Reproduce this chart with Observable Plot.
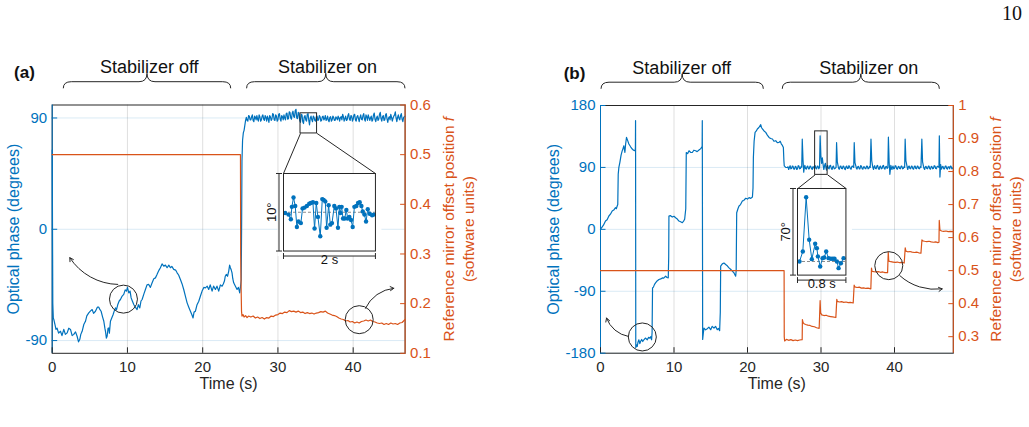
<!DOCTYPE html>
<html>
<head>
<meta charset="utf-8">
<script src="https://cdn.jsdelivr.net/npm/d3@7"></script>
<script src="https://cdn.jsdelivr.net/npm/@observablehq/plot@0.6"></script>
<style>
  body { margin: 0; background: #fff; }
  #fig { position: relative; width: 1029px; height: 427px; overflow: hidden; background: #fff; }
  #page { position: absolute; left: 1002px; top: 3px; font: 20px "Liberation Serif", "DejaVu Serif", serif; line-height: 1; color: #111; }
</style>
</head>
<body>
<div id="fig"><div id="page">10</div></div>
<script>
// ---------- shared axis values ----------
const timeTicks = [0, 10, 20, 30, 40];
const timeGrid = [10, 20, 30, 40];

// ---------- panel (a): phase (degrees) vs time (s) ----------
const phaseTicksA = [-90, 0, 90];
const offsetTicksA = [0.1, 0.2, 0.3, 0.4, 0.5, 0.6];
const phaseA = [
  [0, 64], [0.08, -60], [0.15, -72], [0.22, -73], [0.4, -78], [0.5, -81], [0.65, -80], [0.85, -84], [1.1, -82.5],
  [1.3, -86], [1.54, -81], [1.75, -85], [1.99, -83.8], [2.2, -80], [2.43, -81], [2.65, -86], [2.87, -85], [3.1, -83],
  [3.31, -86.5], [3.5, -91], [3.67, -89], [3.8, -85], [3.98, -82.5], [4.2, -77], [4.42, -74.4], [4.6, -70], [4.86, -67.6],
  [5.1, -66], [5.31, -64.9], [5.5, -68], [5.75, -66.3], [6.0, -63], [6.19, -63], [6.35, -65], [6.5, -66.3], [6.7, -71],
  [6.86, -74.4], [7.0, -80], [7.08, -82.5], [7.2, -88], [7.3, -86.5], [7.42, -80], [7.52, -79.8], [7.6, -84], [7.74, -74.4],
  [7.9, -72], [8.1, -68.9], [8.25, -66], [8.41, -63.6], [8.55, -65], [8.72, -60.8], [8.9, -58], [9.07, -56.8], [9.3, -54],
  [9.51, -52.7], [9.7, -49], [9.87, -50], [10.0, -47], [10.18, -51.4], [10.35, -50], [10.49, -55.5], [10.65, -58],
  [10.84, -60.8], [11.05, -63], [11.28, -64.9], [11.45, -61], [11.64, -63.6], [11.8, -58], [11.95, -56.8], [12.2, -52],
  [12.39, -48.7], [12.6, -45], [12.83, -44.6], [13.05, -47], [13.28, -43.3], [13.5, -40], [13.72, -39.3], [13.9, -37],
  [14.03, -35.2], [14.2, -33], [14.38, -31.1], [14.6, -28], [14.83, -29.8], [15.05, -29], [15.27, -31.1], [15.5, -29],
  [15.71, -31.1], [15.9, -30], [16.15, -32.4], [16.4, -33], [16.6, -35.2], [16.8, -37], [17.04, -40.6], [17.25, -44],
  [17.48, -48.7], [17.7, -54], [17.93, -59.5], [18.15, -63], [18.37, -66.3], [18.55, -69], [18.72, -71.7], [18.85, -67],
  [19.03, -66.3], [19.25, -61], [19.48, -58.2], [19.7, -54], [19.92, -50], [20.15, -47], [20.36, -47.4], [20.6, -46],
  [20.8, -48.7], [21.0, -45], [21.25, -50], [21.45, -46], [21.69, -48.7], [21.9, -46], [22.13, -50], [22.35, -45],
  [22.58, -46], [22.75, -44], [22.89, -41.9], [23.0, -38], [23.15, -36.5], [23.3, -38], [23.46, -33.8], [23.58, -29],
  [23.68, -31.1], [23.8, -33], [23.9, -35.2], [24.0, -40], [24.12, -43.3], [24.35, -46], [24.57, -48.7], [24.75, -47],
  [24.92, -51.4], [25.05, -45], [25.12, -41], [25.18, 10], [25.22, 55], [25.3, 72], [25.4, 78], [25.5, 80], [25.6, 84],
  [25.7, 88],
  [25.8, 90.5], [25.9, 88], [26.0, 87.5], [26.1, 92], [26.2, 91.5], [26.3, 88.5], [26.4, 88.5], [26.5, 91], [26.6, 92.5],
  [26.7, 88], [26.8, 87], [26.9, 91.5], [27.0, 90.5], [27.1, 88.5], [27.2, 92], [27.3, 89], [27.4, 87.5], [27.5, 92.5],
  [27.6, 91], [27.7, 87.5], [27.8, 88.5], [27.9, 91.5], [28.0, 92.5], [28.1, 89], [28.2, 88], [28.3, 92], [28.4, 90.5],
  [28.5, 87.5], [28.6, 91.5], [28.7, 89.5], [28.8, 86.5], [28.9, 92], [29.0, 91], [29.1, 88], [29.2, 89], [29.3, 93.5],
  [29.4, 93], [29.5, 88.5], [29.6, 88], [29.7, 92.5], [29.8, 91.5], [29.9, 87.5], [30.0, 88.5], [30.1, 93], [30.2, 93.5],
  [30.3, 89], [30.4, 87.5], [30.5, 92], [30.6, 91], [30.7, 88.5], [30.8, 92.5], [30.9, 90], [31.0, 88.5], [31.1, 93.5],
  [31.2, 94], [31.3, 89], [31.4, 89.5], [31.5, 95], [31.6, 94.5], [31.7, 90], [31.8, 89], [31.9, 94], [32.0, 95.5],
  [32.1, 91], [32.2, 90.5], [32.3, 96], [32.4, 97], [32.5, 90], [32.6, 89.5], [32.7, 94.5], [32.8, 93.5], [32.9, 88],
  [33.0, 86.5], [33.1, 93], [33.2, 92.5], [33.3, 87], [33.4, 85.5], [33.5, 91], [33.6, 92], [33.7, 88.5], [33.8, 87.5],
  [33.9, 93], [34.0, 93.5], [34.1, 88], [34.2, 84.5], [34.3, 90], [34.4, 91.5], [34.5, 88.5], [34.6, 87], [34.7, 91.5],
  [34.8, 90.5], [34.9, 88], [35.0, 87.5], [35.1, 91], [35.2, 91.5], [35.3, 88], [35.4, 88.5], [35.5, 92], [35.6, 91],
  [35.7, 87.5], [35.8, 88], [35.9, 91], [36.0, 91.5], [36.1, 88.5], [36.2, 89.5], [36.3, 92], [36.4, 88], [36.5, 89],
  [36.6, 91.5], [36.7, 88], [36.8, 87], [36.9, 90.5], [37.0, 91], [37.1, 87.5], [37.2, 88.5], [37.3, 91.5], [37.4, 90.5],
  [37.5, 88], [37.6, 88], [37.7, 91], [37.8, 90], [37.9, 88.5], [38.0, 91.5], [38.1, 90], [38.2, 87.5], [38.3, 90.5],
  [38.4, 91], [38.5, 88.5], [38.6, 93], [38.7, 91], [38.8, 87.5], [38.9, 89.5], [39.0, 91.5], [39.1, 88], [39.2, 88.5],
  [39.3, 92], [39.4, 93.5], [39.5, 89], [39.6, 88], [39.7, 92], [39.8, 91.5], [39.9, 87.5], [40.0, 89], [40.1, 92.5],
  [40.2, 93], [40.3, 88.5], [40.4, 87.5], [40.5, 91], [40.6, 92], [40.7, 89.5], [40.8, 87], [40.9, 90.5], [41.0, 92.5],
  [41.1, 89], [41.2, 88.5], [41.3, 92], [41.4, 93.5], [41.5, 89], [41.6, 87.5], [41.7, 92.5], [41.8, 91], [41.9, 88],
  [42.0, 92.5], [42.1, 90.5], [42.2, 88], [42.3, 90], [42.4, 91.5], [42.5, 87.5], [42.6, 88.5], [42.7, 92.5], [42.8, 94],
  [42.9, 89], [43.0, 87], [43.1, 90], [43.2, 91.5], [43.3, 88], [43.4, 89], [43.5, 93], [43.6, 94.5], [43.7, 89.5],
  [43.8, 87.5], [43.9, 91], [44.0, 92], [44.1, 88], [44.2, 88.5], [44.3, 92.5], [44.4, 93.5], [44.5, 89], [44.6, 86.5],
  [44.7, 90], [44.8, 91], [44.9, 88.5], [45.0, 93], [45.1, 90.5], [45.2, 87.5], [45.3, 90], [45.4, 91.5], [45.5, 92.5],
  [45.6, 95], [45.7, 90], [45.8, 87], [45.9, 90.5], [46.0, 92.5], [46.1, 89.5], [46.2, 88.5], [46.3, 92], [46.4, 93.5],
  [46.5, 89], [46.6, 87], [46.7, 90.5], [46.8, 91], [46.9, 91.5]
];
// reference mirror offset f (software units)
const offsetA = [
  [0, 0.5], [25.02, 0.5], [25.05, 0.30], [25.08, 0.26], [25.12, 0.22], [25.16, 0.185], [25.22, 0.175], [25.35, 0.178],
  [25.5, 0.173], [25.7, 0.176], [25.9, 0.172], [26.1, 0.175], [26.4, 0.173], [26.7, 0.175], [27.0, 0.171], [27.3, 0.173],
  [27.6, 0.170], [27.9, 0.172], [28.2, 0.169], [28.5, 0.172], [28.8, 0.171], [29.1, 0.175], [29.4, 0.174], [29.7, 0.177],
  [30.0, 0.178], [30.3, 0.181], [30.6, 0.180], [30.9, 0.183], [31.2, 0.182], [31.5, 0.186], [31.8, 0.184], [32.1, 0.185],
  [32.4, 0.183], [32.7, 0.185], [33.0, 0.182], [33.3, 0.183], [33.6, 0.180], [33.9, 0.182], [34.2, 0.180], [34.5, 0.181],
  [34.8, 0.179], [35.1, 0.181], [35.4, 0.182], [35.7, 0.184], [36.0, 0.183], [36.3, 0.185], [36.6, 0.181], [36.9, 0.179],
  [37.2, 0.177], [37.5, 0.176], [37.8, 0.174], [38.1, 0.171], [38.4, 0.169], [38.7, 0.168], [39.0, 0.165], [39.3, 0.166],
  [39.6, 0.163], [39.9, 0.164], [40.2, 0.161], [40.5, 0.163], [40.8, 0.161], [41.1, 0.164], [41.4, 0.165], [41.7, 0.167],
  [42.0, 0.165], [42.3, 0.167], [42.6, 0.164], [42.9, 0.163], [43.2, 0.161], [43.5, 0.160], [43.8, 0.161], [44.1, 0.158],
  [44.4, 0.160], [44.7, 0.158], [45.0, 0.161], [45.3, 0.159], [45.6, 0.160], [45.9, 0.158], [46.2, 0.161], [46.5, 0.162],
  [46.9, 0.168]
];
// 2 s zoom of the locked phase, samples [s, degrees]
const zoomA = [
  [0.036, 89.9], [0.109, 89.7], [0.16, 89.1], [0.182, 90.7], [0.218, 91.9], [0.255, 90.8], [0.291, 88.1], [0.327, 88.8],
  [0.378, 88.6], [0.415, 90.5], [0.458, 90.6], [0.509, 90.8], [0.56, 91.1], [0.596, 91.2], [0.64, 91.3], [0.676, 87.9],
  [0.713, 91.2], [0.749, 89.4], [0.8, 86.9], [0.844, 91.7], [0.873, 91.6], [0.909, 91.4], [0.938, 88.0], [0.982, 90.9],
  [1.018, 88.4], [1.055, 88.6], [1.105, 90.8], [1.142, 90.5], [1.185, 88.0], [1.215, 90.7], [1.236, 89.9], [1.265, 90.7],
  [1.295, 89.2], [1.331, 89.2], [1.367, 90.3], [1.396, 89.2], [1.433, 89.4], [1.469, 89.0], [1.505, 88.1], [1.542, 90.7],
  [1.585, 90.8], [1.622, 91.2], [1.658, 91.3], [1.695, 90.8], [1.724, 90.1], [1.76, 89.7], [1.796, 88.8], [1.833, 90.4],
  [1.876, 89.8], [1.927, 89.6], [1.964, 89.7]
];

// ---------- panel (b) ----------
const phaseTicksB = [-180, -90, 0, 90, 180];
const offsetTicksB = [0.3, 0.4, 0.5, 0.6, 0.7, 0.8, 0.9, 1];
const phaseB = [
  [0, 0], [0.14, 2.3], [0.4, 6], [0.68, 12.1], [0.9, 14], [1.14, 19.4], [1.35, 22], [1.59, 26.7], [1.8, 28], [2.04, 31.5],
  [2.15, 30], [2.27, 34], [2.35, 36], [2.41, 80], [2.5, 90], [2.63, 97], [2.8, 108], [2.95, 114], [3.05, 117], [3.18, 121.5],
  [3.25, 116], [3.32, 111.7], [3.42, 124], [3.54, 133.6], [3.7, 129], [3.86, 124], [4.1, 120], [4.32, 116.7], [4.5, 115],
  [4.68, 114.2], [4.75, 118], [4.77, 158], [4.8, -172], [4.9, -168], [5.0, -170.2], [5.1, -164], [5.22, -160.5], [5.35, -166],
  [5.45, -162.9], [5.6, -160], [5.75, -163], [5.9, -160.5], [6.1, -158], [6.36, -160.5], [6.55, -157], [6.72, -158.1],
  [6.85, -156], [6.95, -160.5], [7.02, -150], [7.08, -85.2], [7.2, -84], [7.35, -80], [7.49, -77.9], [7.7, -75], [7.95, -72.9],
  [8.2, -72], [8.4, -70.6], [8.6, -71], [8.86, -68.1], [9.05, -70], [9.22, -70.6], [9.28, -40], [9.31, 19.4], [9.5, 20],
  [9.76, 17.9], [10.0, 19], [10.22, 16.9], [10.45, 15], [10.67, 12.1], [10.9, 11], [11.13, 9.6], [11.3, 12], [11.45, 14.6],
  [11.6, 30], [11.67, 111.7], [11.85, 110], [12.04, 114.2], [12.25, 112], [12.49, 111.7], [12.7, 115], [12.94, 114.2],
  [13.15, 113], [13.4, 115.2], [13.6, 117], [13.76, 119], [13.83, 121], [13.85, 158], [13.9, -160], [14.0, -150],
  [14.08, -143.5], [14.3, -146], [14.53, -144.4], [14.75, -142], [14.99, -145.9], [15.2, -141], [15.44, -143.5],
  [15.65, -141], [15.89, -145.9], [16.05, -144], [16.21, -147.3], [16.3, -120], [16.35, -53.5], [16.57, -50.2], [16.8, -49],
  [17.03, -51.1], [17.25, -53], [17.48, -56], [17.7, -58], [17.94, -60.8], [18.15, -63], [18.39, -68.1], [18.46, -60],
  [18.53, 24.2], [18.7, 30], [18.85, 34], [19.05, 36], [19.3, 41.3], [19.5, 42], [19.76, 45.2], [20.0, 44], [20.21, 46.1],
  [20.45, 45], [20.67, 46.9], [20.75, 60], [20.8, 104.4], [20.9, 128], [21.03, 140.9], [21.2, 143], [21.34, 145.9],
  [21.55, 148], [21.8, 152.1], [21.9, 148], [22.03, 145.9], [22.25, 143], [22.48, 140.9], [22.7, 137], [22.93, 133.6],
  [23.15, 132], [23.39, 131.3], [23.6, 128], [23.84, 128.8], [24.05, 126], [24.29, 126.3], [24.45, 128], [24.61, 124],
  [24.75, 122], [24.88, 119], [24.95, 100], [25.0, 92.3], [25.2, 90], [25.43, 89.9],
  [25.5, 91], [25.6, 87], [25.7, 90], [25.8, 92.5], [25.9, 88], [26.0, 88.5], [26.1, 92], [26.2, 91.5], [26.3, 87.5],
  [26.4, 87.5], [26.5, 91.5], [26.6, 91], [26.7, 87], [26.8, 88], [26.9, 92.5], [27.0, 92], [27.1, 88], [27.2, 88.5],
  [27.3, 91.5], [27.38, 90.5], [27.45, 131], [27.55, 101], [27.65, 83], [27.72, 89], [27.8, 93], [27.9, 88.5], [28.0, 87.5],
  [28.1, 91], [28.2, 92], [28.3, 88], [28.4, 88], [28.5, 92], [28.6, 91.5], [28.7, 88.5], [28.8, 87], [28.9, 91], [29.0, 91],
  [29.1, 88], [29.2, 92.5], [29.3, 89], [29.4, 88], [29.5, 92], [29.6, 91.5], [29.7, 88], [29.8, 90], [29.88, 136],
  [29.98, 106], [30.08, 96], [30.18, 104], [30.3, 93], [30.38, 87], [30.45, 90], [30.52, 94], [30.6, 96], [30.68, 89],
  [30.75, 86], [30.82, 91], [30.9, 93], [31.0, 89], [31.1, 88], [31.2, 92.5], [31.3, 93], [31.4, 88.5], [31.5, 87],
  [31.6, 91], [31.7, 92], [31.8, 88], [31.9, 88.5], [32.05, 90], [32.12, 126], [32.22, 98], [32.35, 91], [32.42, 88],
  [32.5, 87.5], [32.6, 91.5], [32.7, 92], [32.8, 88.5], [32.9, 88], [33.0, 92], [33.1, 91.5], [33.2, 88], [33.3, 87],
  [33.4, 91], [33.5, 92], [33.6, 88.5], [33.7, 88.5], [33.8, 92.5], [33.9, 91], [34.0, 88], [34.1, 87.5], [34.2, 91.5],
  [34.3, 92], [34.45, 90], [34.52, 126], [34.62, 97], [34.75, 92], [34.82, 88.5], [34.9, 87.5], [35.0, 91], [35.1, 91.5],
  [35.2, 88], [35.3, 88], [35.4, 92.5], [35.5, 92], [35.6, 88], [35.7, 87.5], [35.8, 91], [35.9, 91], [36.0, 88.5],
  [36.1, 88], [36.2, 92], [36.3, 92], [36.4, 88], [36.5, 88.5], [36.6, 91.5], [36.7, 90], [36.8, 131], [36.9, 100],
  [37.0, 93], [37.08, 89], [37.15, 87], [37.22, 91], [37.3, 92.5], [37.4, 88.5], [37.5, 88], [37.6, 92], [37.7, 93],
  [37.8, 88.5], [37.9, 87], [38.0, 91], [38.1, 92], [38.2, 88], [38.3, 88.5], [38.4, 92], [38.5, 93], [38.6, 88.5],
  [38.7, 87.5], [38.8, 91], [38.9, 91.5], [39.0, 88.5], [39.1, 90], [39.17, 134], [39.27, 98], [39.37, 80], [39.5, 93],
  [39.58, 90], [39.65, 87], [39.72, 90], [39.8, 92], [39.9, 88], [40.0, 88.5], [40.1, 92.5], [40.2, 92], [40.3, 88],
  [40.4, 87.5], [40.5, 91], [40.6, 91.5], [40.7, 88.5], [40.8, 88], [40.9, 92], [41.0, 92], [41.1, 88], [41.2, 88.5],
  [41.3, 91], [41.38, 90], [41.45, 131], [41.55, 100], [41.68, 93], [41.75, 89], [41.8, 87], [41.9, 91], [42.0, 92],
  [42.1, 88.5], [42.2, 88], [42.3, 92], [42.4, 91.5], [42.5, 88], [42.6, 87.5], [42.7, 91.5], [42.8, 92], [42.9, 88.5],
  [43.0, 88], [43.1, 92], [43.2, 91.5], [43.3, 88.5], [43.4, 88], [43.5, 91], [43.6, 90], [43.72, 131], [43.82, 98],
  [43.95, 91], [44.02, 88.5], [44.1, 87], [44.2, 91], [44.3, 91.5], [44.4, 88.5], [44.5, 88], [44.6, 92], [44.7, 92],
  [44.8, 88], [44.9, 87.5], [45.0, 91.5], [45.1, 91], [45.2, 88], [45.3, 88.5], [45.4, 92.5], [45.5, 92], [45.6, 88.5],
  [45.7, 88], [45.8, 91.5], [45.9, 91.5], [46.05, 90], [46.1, 136], [46.18, 76], [46.28, 94], [46.35, 89], [46.4, 87.5],
  [46.5, 91], [46.6, 91.5], [46.7, 88], [46.8, 88], [46.9, 92], [47.0, 92], [47.1, 88.5], [47.2, 87.5], [47.3, 91],
  [47.4, 91], [47.5, 88], [47.6, 92], [47.7, 91.5], [47.8, 88], [47.9, 88.5], [48.0, 90]
];
const offsetB = [
  [0, 0.5], [24.98, 0.5], [25.0, 0.30], [25.05, 0.287], [25.3, 0.292], [25.6, 0.289], [25.9, 0.291], [26.2, 0.288],
  [26.5, 0.290], [26.8, 0.288], [27.1, 0.290], [27.44, 0.291], [27.47, 0.352], [27.55, 0.343], [27.7, 0.339], [27.9, 0.337],
  [28.2, 0.335], [28.5, 0.334], [28.8, 0.331], [29.1, 0.330], [29.4, 0.327], [29.75, 0.325], [29.88, 0.409], [29.95, 0.372],
  [30.1, 0.366], [30.4, 0.364], [30.7, 0.365], [31.0, 0.362], [31.3, 0.361], [31.6, 0.360], [32.02, 0.358], [32.15, 0.413],
  [32.22, 0.407], [32.5, 0.405], [32.8, 0.406], [33.1, 0.404], [33.4, 0.405], [33.7, 0.403], [34.0, 0.404], [34.38, 0.402],
  [34.51, 0.456], [34.6, 0.451], [34.9, 0.449], [35.2, 0.450], [35.5, 0.447], [35.8, 0.448], [36.1, 0.446], [36.4, 0.447],
  [36.78, 0.445], [36.87, 0.508], [36.95, 0.498], [37.2, 0.497], [37.5, 0.496], [37.8, 0.497], [38.1, 0.495], [38.4, 0.496],
  [38.7, 0.494], [39.06, 0.494], [39.15, 0.556], [39.22, 0.529], [39.5, 0.527], [39.8, 0.526], [40.1, 0.525], [40.4, 0.526],
  [40.7, 0.524], [41.0, 0.525], [41.32, 0.523], [41.46, 0.569], [41.55, 0.559], [41.8, 0.557], [42.1, 0.558], [42.4, 0.556],
  [42.7, 0.555], [43.0, 0.556], [43.3, 0.554], [43.6, 0.553], [43.73, 0.593], [43.85, 0.590], [44.1, 0.589], [44.4, 0.588],
  [44.7, 0.589], [45.0, 0.587], [45.3, 0.586], [45.6, 0.587], [45.9, 0.585], [46.05, 0.586], [46.09, 0.652], [46.18, 0.623],
  [46.4, 0.620], [46.7, 0.619], [47.0, 0.620], [47.3, 0.618], [47.6, 0.619], [48.0, 0.618]
];
// 0.8 s zoom around one phase kick, samples [s, degrees]
const zoomB = [
  [0.033, 90], [0.088, 98.1], [0.143, 141.9], [0.193, 107.6], [0.237, 91.9], [0.292, 104.3], [0.32, 100.8], [0.337, 94.1],
  [0.375, 85.9], [0.414, 92.7], [0.441, 93.2], [0.474, 98.1], [0.513, 92.7], [0.552, 92.2], [0.585, 92.2], [0.612, 92.2],
  [0.651, 90], [0.679, 84.6], [0.717, 88.6], [0.761, 92.7]
];

const stageLabels = ["Stabilizer off", "Stabilizer on"];

// ---------- styling ----------
const BLUE = "#0072BD", ORANGE = "#D95319", INK = "#262626";
const FONT = '"Liberation Sans", Arial, Helvetica, sans-serif';
const H = 427;
const NS = "http://www.w3.org/2000/svg";
const fig = document.getElementById("fig");
const RIGHT_TITLE = "Reference mirror offset position f\n(software units)";

const panels = [
  {
    letter: "(a)", left: 0, width: 514, mL: 51.7, mR: 109.4, mT: 104.5, mB: 74.2,
    xDomain: [0, 46.9], yDomain: [-100.3, 100.5], yTicks: phaseTicksA,
    rDomain: [0.1, 0.6], rTicks: offsetTicksA, rFormat: d => d.toFixed(1),
    phase: phaseA, offset: offsetA, zoom: zoomA,
    zoomX: [0, 2], zoomY: [85, 95], zoomRef: 90, zoomYLabel: "10°", zoomXLabel: "2 s",
    inset: {t0: 30.74, t1: 42.96, yTop: 45.1, yBottom: -17.6},
    source: {t0: 33.0, t1: 35.2, yTop: 93.8, yBottom: 77.5},
    stages: [12.9, 36.6], braces: [[1.54, 23.79], [25.9, 46.95]],
    letterDx: -27.7, yTitleDx: -38.7, rTitleDx: 52.7,
    circle: {t: 9.47, v: -56.5}, arrow: {x1: 8.71, y1: -44.6, x2: 2.34, y2: -23.0}, bend: 28,
    rCircle: {t: 40.8, v: 0.1677}, rArrow: {x1: 41.63, y1: 0.1906, x2: 45.4, y2: 0.2309}, rBend: 30
  },
  {
    letter: "(b)", left: 514, width: 515, mL: 86, mR: 76.2, mT: 105, mB: 74.3,
    xDomain: [0, 48], yDomain: [-180, 180], yTicks: phaseTicksB,
    rDomain: [0.25, 1], rTicks: offsetTicksB, rFormat: d => d === 1 ? "1" : d.toFixed(1),
    phase: phaseB, offset: offsetB, zoom: zoomB,
    zoomX: [0, 0.8], zoomY: [79, 149], zoomRef: 90, zoomYLabel: "70°", zoomXLabel: "0.8 s",
    inset: {t0: 26.84, t1: 33.43, yTop: 59.2, yBottom: -66.7},
    source: {t0: 29.2, t1: 30.9, yTop: 142.4, yBottom: 79.2},
    stages: [11.05, 36.5], braces: [[0.14, 22.22], [24.8, 46.17]],
    letterDx: -26, yTitleDx: -46.7, rTitleDx: 51.5,
    circle: {t: 5.69, v: -156.4}, arrow: {x1: 3.77, y1: -155.6, x2: 0.82, y2: -129.0}, bend: 30,
    rCircle: {t: 39.22, v: 0.5151}, rArrow: {x1: 40.72, y1: 0.4849, x2: 46.49, y2: 0.4447}, rBend: -25
  }
];

// curly braces drawn above the frame, spanning [t0, t1] on the time scale
function braceMark(spans) {
  return (index, scales, values, dimensions) => {
    const g = document.createElementNS(NS, "g");
    const top = dimensions.marginTop;
    const yEnd = top - 16.2, yFlat = top - 22.8, yTip = top - 31.2, r = 8;
    for (const [a, b] of spans) {
      const x1 = scales.x(a), x2 = scales.x(b), xm = (x1 + x2) / 2;
      const p = d3.path();
      p.moveTo(x1, yEnd);
      p.quadraticCurveTo(x1, yFlat, x1 + r, yFlat);
      p.lineTo(xm - r, yFlat);
      p.quadraticCurveTo(xm, yFlat, xm, yTip);
      p.quadraticCurveTo(xm, yFlat, xm + r, yFlat);
      p.lineTo(x2 - r, yFlat);
      p.quadraticCurveTo(x2, yFlat, x2, yEnd);
      const path = document.createElementNS(NS, "path");
      path.setAttribute("d", p.toString());
      path.setAttribute("fill", "none");
      path.setAttribute("stroke", INK);
      path.setAttribute("stroke-width", 1);
      g.append(path);
    }
    return g;
  };
}

function place(el, left, top) {
  el.style.position = "absolute";
  el.style.left = left + "px";
  el.style.top = top + "px";
  fig.append(el);
}

const tx = d => d[0], ty = d => d[1];

for (const P of panels) {
  const style = {background: "transparent", overflow: "visible", fontFamily: FONT, fontSize: "15px", color: INK, maxWidth: "none"};
  const base = {
    width: P.width, height: H,
    marginLeft: P.mL, marginRight: P.mR, marginTop: P.mT, marginBottom: P.mB,
    style
  };
  const connectors = [
    {x1: P.source.t0, y1: P.source.yBottom, x2: P.inset.t0, y2: P.inset.yTop},
    {x1: P.source.t1, y1: P.source.yBottom, x2: P.inset.t1, y2: P.inset.yTop}
  ];

  // left axis: optical phase
  const phasePlot = Plot.plot({
    ...base,
    x: {domain: P.xDomain},
    y: {domain: P.yDomain},
    marks: [
      Plot.gridX(timeGrid, {stroke: INK, strokeOpacity: 0.15}),
      Plot.gridY(P.yTicks, {stroke: BLUE, strokeOpacity: 0.15}),
      Plot.frame({stroke: INK}),
      Plot.ruleX([P.xDomain[0]], {stroke: BLUE}),
      Plot.axisX(timeTicks, {tickSize: -5.5, tickPadding: 14, color: INK, label: null, fontSize: 15}),
      Plot.axisY(P.yTicks, {anchor: "left", tickSize: -5.5, tickPadding: 10.5, color: BLUE, tickFormat: d => String(d), label: null, fontSize: 15}),
      Plot.line(P.phase, {x: tx, y: ty, stroke: BLUE, strokeWidth: 1.2}),
      Plot.rect([P.source], {x1: "t0", x2: "t1", y1: "yBottom", y2: "yTop", fill: "none", stroke: INK}),
      Plot.link(connectors, {x1: "x1", y1: "y1", x2: "x2", y2: "y2", stroke: INK, strokeWidth: 1}),
      Plot.dot([P.circle], {x: "t", y: "v", r: 14, fill: "none", stroke: INK, strokeWidth: 1}),
      Plot.arrow([P.arrow], {x1: "x1", y1: "y1", x2: "x2", y2: "y2", bend: P.bend, headLength: 6, stroke: INK, strokeWidth: 1}),
      Plot.text(["Time (s)"], {frameAnchor: "bottom", dy: 36, fontSize: 16, fill: INK}),
      Plot.text(["Optical phase (degrees)"], {frameAnchor: "left", dx: P.yTitleDx, rotate: -90, textAnchor: "middle", fill: BLUE, fontSize: 16}),
      Plot.text([P.letter], {frameAnchor: "top-left", dx: P.letterDx, dy: -38.7, fontWeight: "bold", fontSize: 17, textAnchor: "middle", fill: "#111"}),
      Plot.text(P.stages.map((t, i) => ({t, label: stageLabels[i]})), {x: "t", text: "label", frameAnchor: "top", dy: -44.5, fontSize: 18, fill: "#111"}),
      braceMark(P.braces)
    ]
  });

  // right axis: reference mirror offset
  const offsetPlot = Plot.plot({
    ...base,
    x: {domain: P.xDomain, axis: null},
    y: {domain: P.rDomain},
    marks: [
      Plot.line(P.offset, {x: tx, y: ty, stroke: ORANGE, strokeWidth: 1.2}),
      Plot.ruleX([P.xDomain[1]], {stroke: ORANGE}),
      Plot.axisY(P.rTicks, {anchor: "right", tickSize: -5.5, tickPadding: 10.5, color: ORANGE, tickFormat: P.rFormat, label: null, fontSize: 15}),
      Plot.dot([P.rCircle], {x: "t", y: "v", r: 14, fill: "none", stroke: INK, strokeWidth: 1}),
      Plot.arrow([P.rArrow], {x1: "x1", y1: "y1", x2: "x2", y2: "y2", bend: P.rBend, headLength: 6, stroke: INK, strokeWidth: 1}),
      Plot.text([RIGHT_TITLE], {frameAnchor: "right", dx: P.rTitleDx, rotate: -90, textAnchor: "middle", lineAnchor: "middle", fill: ORANGE, fontSize: 15.5, lineHeight: 1.25})
    ]
  });
  // italic symbol f in the right-axis title
  for (const ts of offsetPlot.querySelectorAll("text, tspan")) {
    if (ts.childElementCount === 0 && ts.textContent.endsWith(" f")) {
      ts.textContent = ts.textContent.slice(0, -1);
      const it = document.createElementNS(NS, "tspan");
      it.setAttribute("font-style", "italic");
      it.textContent = "f";
      ts.append(it);
    }
  }

  place(phasePlot, P.left, 0);
  place(offsetPlot, P.left, 0);

  // zoomed inset, located with the phase plot's own scales
  const sx = phasePlot.scale("x"), sy = phasePlot.scale("y");
  const ix0 = sx.apply(P.inset.t0), ix1 = sx.apply(P.inset.t1);
  const iy0 = sy.apply(P.inset.yTop), iy1 = sy.apply(P.inset.yBottom);
  const m = {l: 26, r: 2, t: 2, b: 26};
  const insetPlot = Plot.plot({
    width: ix1 - ix0 + m.l + m.r, height: iy1 - iy0 + m.t + m.b,
    marginLeft: m.l, marginRight: m.r, marginTop: m.t, marginBottom: m.b,
    x: {domain: P.zoomX, axis: null},
    y: {domain: P.zoomY, axis: null},
    style: {...style, fontSize: "13px"},
    marks: [
      Plot.frame({fill: "white", stroke: null, insetLeft: -6, insetRight: -6, insetBottom: -5}),
      Plot.ruleY([P.zoomRef], {stroke: "#8c8c8c", strokeDasharray: "3,2", strokeWidth: 1}),
      Plot.line(P.zoom, {x: tx, y: ty, stroke: BLUE, strokeWidth: 1}),
      Plot.dot(P.zoom, {x: tx, y: ty, r: 2.2, fill: BLUE}),
      Plot.frame({stroke: INK}),
      Plot.link([{x: P.zoomX[0], y1: P.zoomY[0], y2: P.zoomY[1]}], {x1: "x", x2: "x", y1: "y1", y2: "y2", dx: -4.5, marker: "tick", stroke: INK}),
      Plot.link([{y: P.zoomY[0], x1: P.zoomX[0], x2: P.zoomX[1]}], {x1: "x1", x2: "x2", y1: "y", y2: "y", dy: 5, marker: "tick", stroke: INK}),
      Plot.text([P.zoomYLabel], {frameAnchor: "left", dx: -11.5, rotate: -90, textAnchor: "middle", fontSize: 13, fill: "#111"}),
      Plot.text([P.zoomXLabel], {frameAnchor: "bottom", dy: 13, fontSize: 13, fill: "#111"})
    ]
  });
  place(insetPlot, P.left + ix0 - m.l, iy0 - m.t);
}
</script>
</body>
</html>
